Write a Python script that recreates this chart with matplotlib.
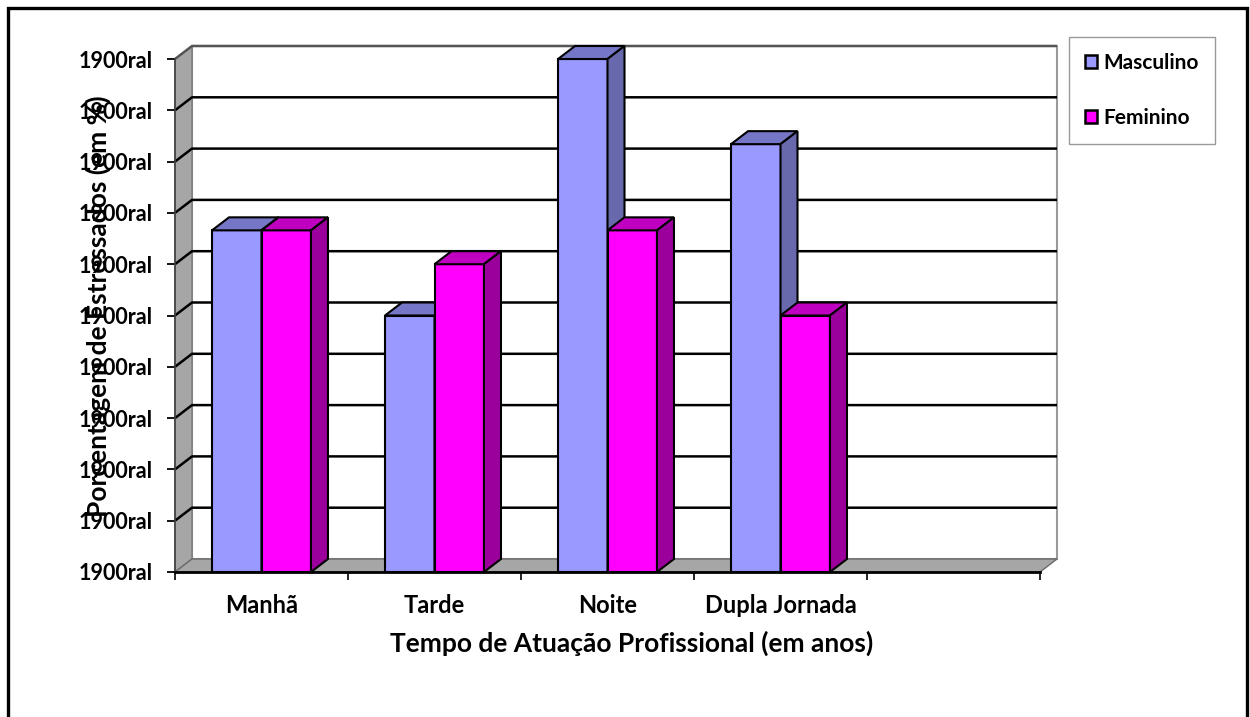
import matplotlib
matplotlib.use("Agg")
import matplotlib.pyplot as plt
from matplotlib.patches import Polygon, Patch, Rectangle

# data
categorias = ["Manhã", "Tarde", "Noite", "Dupla Jornada", ""]
series = ["Masculino", "Feminino"]
masculino = [33.3, 25.0, 50.0, 41.7]
feminino = [33.3, 30.0, 33.3, 25.0]
yticks = [0, 5, 10, 15, 20, 25, 30, 35, 40, 45, 50]
ytick_labels = ["1900ral"] * len(yticks)

# front, top, side colours of each series
cores = {
    "Masculino": ("#9999FF", "#7676C6", "#6868AC"),
    "Feminino": ("#FF00FF", "#C000C0", "#9C009C"),
}

plt.rcParams["font.family"] = ["Lato", "DejaVu Sans"]
plt.rcParams["font.weight"] = "bold"

fig = plt.figure(figsize=(12.5, 7.17), dpi=100)
ax = fig.add_axes([175 / 1250, 1 - 572 / 717, 865 / 1250, 513 / 717])

ncat = len(categorias)
ymax = yticks[-1]
ax.set_xlim(0, ncat)
ax.set_ylim(0, ymax)

# depth of the fake 3D box, in data units
dx = 17 / 173
dy = 13 * ymax / 513

# back wall, left wall and floor
ax.add_patch(Rectangle((dx, dy), ncat, ymax, fc="white", ec="#9a9a9a", lw=1.5,
                       clip_on=False, zorder=0.5))
ax.add_patch(Polygon([(0, 0), (dx, dy), (dx, ymax + dy), (0, ymax)],
                     fc="#A6A6A6", ec="#7a7a7a", lw=1, clip_on=False, zorder=1))
ax.add_patch(Polygon([(0, 0), (ncat, 0), (ncat + dx, dy), (dx, dy)],
                     fc="#A6A6A6", ec="#6a6a6a", lw=1, clip_on=False, zorder=1))

# gridlines run across the left wall and the back wall
for v in yticks[1:]:
    cor = "#555555" if v == ymax else "black"
    ax.plot([0, dx, ncat + dx], [v, v + dy, v + dy], color=cor, lw=1.8,
            clip_on=False, zorder=1.5, solid_capstyle="butt")

largura = 0.286


def barra3d(x0, h, cor):
    frente, topo, lado = cor
    kw = dict(ec="black", lw=1.5, clip_on=False, zorder=3, joinstyle="miter")
    ax.add_patch(Rectangle((x0, 0), largura, h, fc=frente, **kw))
    ax.add_patch(Polygon([(x0, h), (x0 + dx, h + dy),
                          (x0 + largura + dx, h + dy), (x0 + largura, h)],
                         fc=topo, **kw))
    ax.add_patch(Polygon([(x0 + largura, 0), (x0 + largura, h),
                          (x0 + largura + dx, h + dy), (x0 + largura + dx, dy)],
                         fc=lado, **kw))


for i in range(len(masculino)):
    centro = i + 0.5
    barra3d(centro - largura, masculino[i], cores["Masculino"])
    barra3d(centro, feminino[i], cores["Feminino"])

# axes
for s in ["top", "right"]:
    ax.spines[s].set_visible(False)
ax.spines["left"].set_color("#404040")
ax.spines["left"].set_linewidth(1.2)
ax.spines["bottom"].set_linewidth(2)
ax.spines["left"].set_zorder(2)
ax.spines["bottom"].set_zorder(2)

ax.set_yticks(yticks, ytick_labels)
ax.tick_params(axis="y", length=6, width=1.3, pad=10, labelsize=15.5)

ax.set_xticks(range(ncat + 1), [""] * (ncat + 1))
ax.set_xticks([i + 0.5 for i in range(ncat)], categorias, minor=True)
ax.tick_params(axis="x", which="major", length=6, width=1.2)
ax.tick_params(axis="x", which="minor", length=0, pad=16, labelsize=17)

ax.set_xlabel("Tempo de Atuação Profissional (em anos)", fontsize=19, fontweight="bold")
ax.xaxis.set_label_coords((632 - 175) / 865, (572 - 643) / 513)
ax.xaxis.label.set_verticalalignment("center")

ax.set_ylabel("Porcentagem de Estressados (em %)", fontsize=19, fontweight="bold")
ax.yaxis.set_label_coords((98 - 175) / 865, (572 - 306) / 513)
ax.yaxis.label.set_verticalalignment("center")

handles = [Patch(fc=cores[s][0], ec="black", lw=1.8, label=s) for s in series]
leg = fig.legend(handles=handles, loc="upper left",
                 bbox_to_anchor=(1069 / 1250, 1 - 37 / 717), frameon=True,
                 fancybox=False, edgecolor="#808080", fontsize=15,
                 handlelength=0.6, handleheight=0.6, handletextpad=0.3,
                 labelspacing=1.7, borderpad=0.75, borderaxespad=0)
leg.get_frame().set_linewidth(1)

# outer frame of the chart area
fig.add_artist(Rectangle((8 / 1250, -0.1), 1239 / 1250, 1.1 - 8 / 717,
                         transform=fig.transFigure, fill=False, ec="black", lw=2.4))

fig.savefig("out.png", dpi=100)
